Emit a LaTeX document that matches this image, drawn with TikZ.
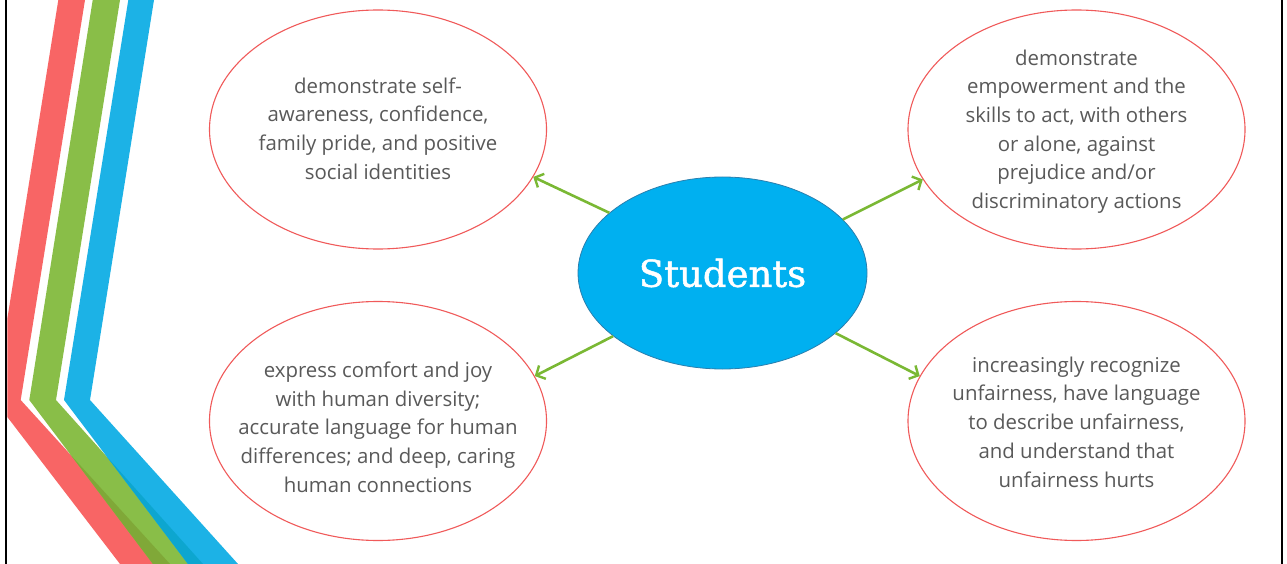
\documentclass[tikz,border=0pt]{standalone}
\usepackage{fontspec}
\setmainfont{Open Sans}
\newfontfamily\titlefont[FakeBold=1.3]{DejaVu Serif}
\usetikzlibrary{shapes.geometric,arrows.meta}

\definecolor{stripered}{HTML}{F86565}
\definecolor{stripegreen}{HTML}{89BE48}
\definecolor{stripeblue}{HTML}{1CB2E6}
\definecolor{overlapolive}{HTML}{80A838}
\definecolor{overlapteal}{HTML}{0DA6CF}
\definecolor{bubbleline}{HTML}{F05A5A}
\definecolor{hubfill}{HTML}{00B0F0}
\definecolor{hubline}{HTML}{2A7FAE}
\definecolor{arrowgreen}{HTML}{7AB834}
\definecolor{bodygray}{HTML}{595959}

% chevron stripes (image-style coordinates, y grows downwards)
\newcommand{\redchevron}{(58.3,0) -- (85,0) -- (20.7,400) -- (170,564) -- (120,564) -- (-5.7,400) -- cycle}
\newcommand{\greenchevron}{(92.7,0) -- (120,0) -- (56,400) -- (203,564) -- (153,564) -- (29.3,400) -- cycle}
\newcommand{\bluechevron}{(128.3,0) -- (154,0) -- (90,400) -- (238,564) -- (188,564) -- (64,400) -- cycle}

\tikzset{
  bubble/.style={ellipse, draw=bubbleline, line width=1.1pt, fill=white,
    minimum width=337pt, minimum height=239pt, inner sep=0pt},
  hub/.style={ellipse, draw=hubline, line width=0.8pt, fill=hubfill,
    minimum width=289pt, minimum height=192pt, inner sep=0pt},
  bodytext/.style={align=center, text=bodygray, inner sep=0pt,
    font=\fontsize{20.4}{28.7}\selectfont},
  hubtext/.style={text=white, inner sep=0pt,
    font=\titlefont\fontsize{37}{44}\selectfont},
  conn/.style={draw=arrowgreen, line width=2.6pt,
    -{Straight Barb[length=7pt,width=15pt,line width=2.4pt]}},
  frameline/.style={draw=black, line width=2.3pt}
}

\begin{document}
\begin{tikzpicture}[x=1pt,y=-1pt]
\useasboundingbox (0,0) rectangle (1287,564);

% side frame
\draw[frameline] (6.2,0) -- (6.2,564);
\draw[frameline] (1282,0) -- (1282,564);

% coloured chevrons on the left
\begin{scope}
  \clip (7.4,0) rectangle (1287,564);
  \fill[stripered] \redchevron;
  \fill[stripegreen] \greenchevron;
  \begin{scope}
    \clip \redchevron;
    \fill[overlapolive] \greenchevron;
  \end{scope}
  \fill[stripeblue] \bluechevron;
  \begin{scope}
    \clip \greenchevron;
    \fill[overlapteal] \bluechevron;
  \end{scope}
\end{scope}

% outer bubbles
\node[bubble] (tl) at (378,129.5) {};
\node[bubble] (tr) at (1076.5,129.5) {};
\node[bubble] (bl) at (378,421) {};
\node[bubble] (br) at (1076.5,421) {};

\node[bodytext] (tlt) at (378,128.5) {demonstrate self-\\awareness, confidence,\\family pride, and positive\\social identities};
\node[bodytext] (trt) at (1076.5,131.5) {demonstrate\\empowerment and the\\skills to act, with others\\or alone, against\\prejudice and/or\\discriminatory actions};
\node[bodytext] (blt) at (378,427) {express comfort and joy\\with human diversity;\\accurate language for human\\differences; and deep, caring\\human connections};
\node[bodytext] (brt) at (1076.5,422) {increasingly recognize\\unfairness, have language\\to describe unfairness,\\and understand that\\unfairness hurts};

% central hub
\node[hub] (hub) at (722.5,273) {};
\node[hubtext] (hubt) at (722.5,273) {Students};

% connectors
\draw[conn] (hub.152.3) -- (tl.-17);
\draw[conn] (hub.24.3) -- (tr.198.5);
\draw[conn] (hub.210.1) -- (bl.16);
\draw[conn] (hub.-28.1) -- (br.164.3);
\end{tikzpicture}
\end{document}
